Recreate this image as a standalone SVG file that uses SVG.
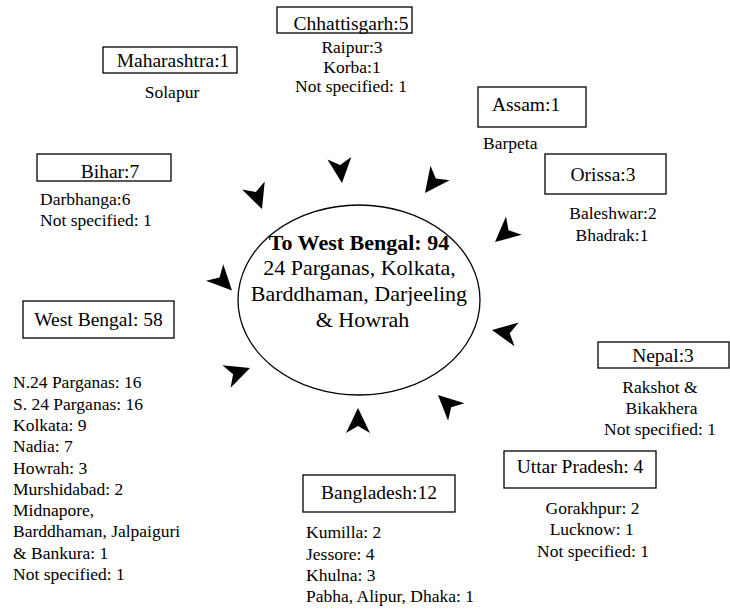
<svg xmlns="http://www.w3.org/2000/svg" xmlns:xlink="http://www.w3.org/1999/xlink" width="730" height="615" viewBox="0 0 730 615" font-family="Liberation Serif, Times New Roman, DejaVu Serif, serif">
<style>
text{font-family:'Liberation Serif','Times New Roman','DejaVu Serif',serif;fill:#000}
.lbl{font-size:19.5px}
.sub{font-size:17.5px}
.mid{text-anchor:middle}
.ctr{font-size:22px;text-anchor:middle}
.box{fill:#fff;stroke:#000;stroke-width:1.3}
.arr{fill:#000}
</style>
<defs>
<path id="ah" d="M0,0 L-25,-12 L-18,0 L-25,12 Z"/>
</defs>
<rect width="730" height="615" fill="#fff"/>

<g id="center">
<ellipse cx="359" cy="300" rx="121" ry="95" fill="#fff" stroke="#000" stroke-width="1.3"/>
<text class="ctr" x="359" y="250" font-weight="bold">To West Bengal: 94</text>
<text class="ctr" x="359.5" y="275">24 Parganas, Kolkata,</text>
<text class="ctr" x="359" y="301">Barddhaman, Darjeeling</text>
<text class="ctr" x="362.5" y="327">&amp; Howrah</text>
</g>

<g id="chhattisgarh">
<rect class="box" x="277" y="7" width="135" height="26"/>
<text class="lbl mid" x="351" y="30">Chhattisgarh:5</text>
<text class="sub mid" x="352" y="53">Raipur:3</text>
<text class="sub mid" x="352" y="73">Korba:1</text>
<text class="sub mid" x="351" y="92">Not specified: 1</text>
</g>

<g id="maharashtra">
<rect class="box" x="103" y="47" width="134" height="26"/>
<text class="lbl mid" x="173" y="67">Maharashtra:1</text>
<text class="sub mid" x="172" y="98">Solapur</text>
</g>

<g id="bihar">
<rect class="box" x="37" y="154" width="134" height="27"/>
<text class="lbl mid" x="110" y="177.5">Bihar:7</text>
<text class="sub" x="40" y="205">Darbhanga:6</text>
<text class="sub" x="40" y="226">Not specified: 1</text>
</g>

<g id="assam">
<rect class="box" x="478" y="87" width="108" height="40"/>
<text class="lbl mid" x="526" y="111">Assam:1</text>
<text class="sub" x="483" y="149">Barpeta</text>
</g>

<g id="orissa">
<rect class="box" x="545" y="154" width="121" height="40"/>
<text class="lbl mid" x="603" y="181">Orissa:3</text>
<text class="sub mid" x="613" y="219">Baleshwar:2</text>
<text class="sub mid" x="612" y="240.5">Bhadrak:1</text>
</g>

<g id="westbengal">
<rect class="box" x="23" y="301" width="151" height="37"/>
<text class="lbl mid" x="98.5" y="326">West Bengal: 58</text>
<text class="sub" x="13" y="388.3">N.24 Parganas: 16</text>
<text class="sub" x="13" y="409.6">S. 24 Parganas: 16</text>
<text class="sub" x="13" y="430.9">Kolkata: 9</text>
<text class="sub" x="13" y="452.2">Nadia: 7</text>
<text class="sub" x="13" y="473.5">Howrah: 3</text>
<text class="sub" x="13" y="494.8">Murshidabad: 2</text>
<text class="sub" x="13" y="516.1">Midnapore,</text>
<text class="sub" x="13" y="537.4">Barddhaman, Jalpaiguri</text>
<text class="sub" x="13" y="558.7">&amp; Bankura: 1</text>
<text class="sub" x="13" y="580">Not specified: 1</text>
</g>

<g id="nepal">
<rect class="box" x="598" y="342" width="131" height="26"/>
<text class="lbl mid" x="663" y="362">Nepal:3</text>
<text class="sub mid" x="660" y="393.3">Rakshot &amp;</text>
<text class="sub mid" x="661.5" y="414.3">Bikakhera</text>
<text class="sub mid" x="660" y="435">Not specified: 1</text>
</g>

<g id="uttarpradesh">
<rect class="box" x="504" y="451" width="152" height="37"/>
<text class="lbl mid" x="580" y="473.3">Uttar Pradesh: 4</text>
<text class="sub mid" x="592.5" y="514.3">Gorakhpur: 2</text>
<text class="sub mid" x="591.7" y="535">Lucknow: 1</text>
<text class="sub mid" x="593" y="556.7">Not specified: 1</text>
</g>

<g id="bangladesh">
<rect class="box" x="303" y="475" width="152" height="37"/>
<text class="lbl mid" x="379" y="499.3">Bangladesh:12</text>
<text class="sub" x="306" y="538.3">Kumilla: 2</text>
<text class="sub" x="306" y="560">Jessore: 4</text>
<text class="sub" x="306" y="580.7">Khulna: 3</text>
<text class="sub" x="306" y="601.7">Pabha, Alipur, Dhaka: 1</text>
</g>

<g id="connectors" class="arr">
<use xlink:href="#ah" transform="translate(342,183) rotate(84)"/>
<use xlink:href="#ah" transform="translate(262,209) rotate(70)"/>
<use xlink:href="#ah" transform="translate(425,193) rotate(127)"/>
<use xlink:href="#ah" transform="translate(495,242) rotate(139)"/>
<use xlink:href="#ah" transform="translate(232,290.5) rotate(46)"/>
<use xlink:href="#ah" transform="translate(492,330) rotate(190)"/>
<use xlink:href="#ah" transform="translate(438,395) rotate(223)"/>
<use xlink:href="#ah" transform="translate(358,408) rotate(270)"/>
<use xlink:href="#ah" transform="translate(250,368) rotate(-20)"/>
</g>
</svg>
